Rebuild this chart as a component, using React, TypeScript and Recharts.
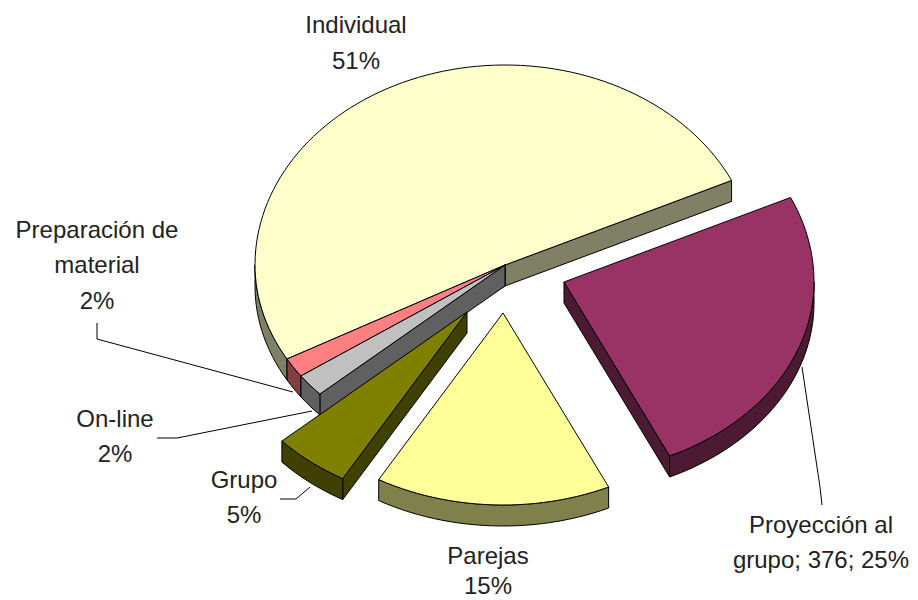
import React from "react";
import { PieChart, Pie, Cell } from "recharts";

const NAMES = ["Individual", "Preparación de material", "On-line", "Grupo", "Parejas", "Proyección al grupo"];
const VALUES = [770, 25, 29, 75, 229, 376];
const TOP_COLORS = ["#FFFFCC", "#FF8080", "#C0C0C0", "#808000", "#FFFF99", "#993366"];
const SIDE_COLORS = ["#808066", "#804040", "#606060", "#404000", "#80804D", "#4D1A33"];
// how far each slice is pulled out of the pie, in screen pixels
const EXPLODE_X = [0, 0, 0, -38, -2, 59];
const EXPLODE_Y = [0, 0, 0, 47, 48, 17];

const WIDTH = 918;
const HEIGHT = 600;
// the fake perspective squashes the front of the pie a bit more than the back
const TILT_BACK = 0.8;
const TILT_FRONT = 0.768;
const DEPTH = 21;
const FONT = '"Liberation Sans", Arial, sans-serif';

type LabelSpot = { x: number; ys: number[]; lines: string[]; leader?: number[][] };

// hand placed like in the original, the last line gets the percentage appended
const LABEL_SPOTS: LabelSpot[] = [
  { x: 356, ys: [33, 69], lines: ["Individual", ""] },
  {
    x: 97,
    ys: [238, 273, 309],
    lines: ["Preparación de", "material", ""],
    leader: [[97, 323], [97, 339], [293, 392]],
  },
  {
    x: 115,
    ys: [427, 462],
    lines: ["On-line", ""],
    leader: [[157, 438], [177, 438], [312, 411]],
  },
  {
    x: 244,
    ys: [488, 523],
    lines: ["Grupo", ""],
    leader: [[280, 499], [296, 499], [310, 487]],
  },
  { x: 488, ys: [564, 594], lines: ["Parejas", ""] },
  {
    x: 821,
    ys: [533, 568],
    lines: ["Proyección al", "grupo; 376; "],
    leader: [[802, 367], [820, 487], [822, 505]],
  },
];

const rad = (deg: number) => (deg * Math.PI) / 180;

function SliceShape(props: any) {
  const { cx, cy, outerRadius, startAngle, endAngle, fill, index } = props;
  const ox = cx + EXPLODE_X[index];
  const oy = cy + EXPLODE_Y[index];
  const px = (a: number) => ox + outerRadius * Math.cos(rad(a));
  const py = (a: number) => {
    const s = Math.sin(rad(a));
    return oy - outerRadius * (s > 0 ? TILT_BACK : TILT_FRONT) * s;
  };
  const side = SIDE_COLORS[index];

  // walk along the rim in small steps, dy pushes the arc down to the bottom face
  const arc = (from: number, to: number, dy: number) => {
    const pts: string[] = [];
    const steps = Math.max(2, Math.ceil(Math.abs(to - from) / 2));
    for (let i = 0; i <= steps; i++) {
      const a = from + ((to - from) * i) / steps;
      pts.push(`${px(a)},${py(a) + dy}`);
    }
    return pts.join(" L");
  };

  const wall = (a: number) =>
    `M${ox},${oy} L${px(a)},${py(a)} L${px(a)},${py(a) + DEPTH} L${ox},${oy + DEPTH} Z`;

  // the rim only shows on the front half of the pie
  const rimFrom = startAngle % 360 < 180 ? 180 : startAngle;
  const rimTo = Math.min(endAngle, 360);
  const hasRim = rimTo > rimFrom;
  const rim = `M${arc(rimFrom, rimTo, 0)} L${arc(rimTo, rimFrom, DEPTH)} Z`;
  const top = `M${ox},${oy} L${arc(startAngle, endAngle, 0)} Z`;

  const startWall = Math.sin(rad(startAngle - 90)) < 0;
  const endWall = Math.sin(rad(endAngle + 90)) < 0;

  return (
    <g stroke="#000" strokeWidth={1} strokeLinejoin="round">
      {endWall && <path d={wall(endAngle)} fill={side} />}
      {startWall && <path d={wall(startAngle)} fill={side} />}
      {hasRim && <path d={rim} fill={side} />}
      <path d={top} fill={fill} />
    </g>
  );
}

function SliceLabel(props: any) {
  const { index, percent } = props;
  const spot = LABEL_SPOTS[index];
  const pct = `${Math.round(percent * 100)}%`;
  const last = spot.lines.length - 1;
  return (
    <g>
      {spot.leader && (
        <polyline
          points={spot.leader.map((p) => p.join(",")).join(" ")}
          fill="none"
          stroke="#000"
          strokeWidth={1}
        />
      )}
      {spot.lines.map((line, i) => (
        <text
          key={i}
          x={spot.x}
          y={spot.ys[i]}
          textAnchor="middle"
          fontFamily={FONT}
          fontSize={24}
          fill="#222"
        >
          {i === last ? line + pct : line}
        </text>
      ))}
    </g>
  );
}

export default function App() {
  const rows = NAMES.map((name, i) => ({ name, value: VALUES[i] }));
  return (
    <div style={{ position: "absolute", left: 0, top: 0, width: WIDTH, height: HEIGHT, background: "#fff" }}>
      <PieChart width={WIDTH} height={HEIGHT} margin={{ top: 0, right: 0, bottom: 0, left: 0 }}>
        <Pie
          data={rows}
          dataKey="value"
          nameKey="name"
          cx={505}
          cy={265}
          innerRadius={0}
          outerRadius={250}
          startAngle={25}
          endAngle={385}
          paddingAngle={0}
          isAnimationActive={false}
          shape={SliceShape}
          label={SliceLabel}
          labelLine={false}
        >
          {rows.map((_, i) => (
            <Cell key={i} fill={TOP_COLORS[i]} />
          ))}
        </Pie>
      </PieChart>
    </div>
  );
}
